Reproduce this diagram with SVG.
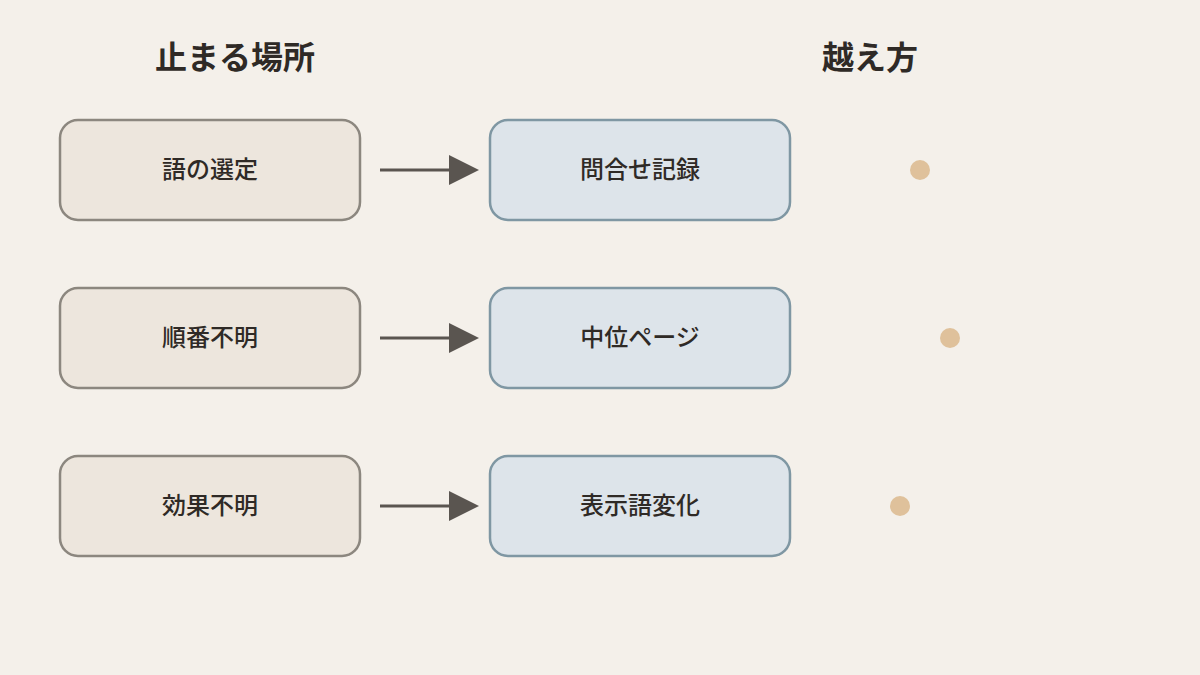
<svg xmlns="http://www.w3.org/2000/svg" width="1200" height="675" viewBox="0 0 1200 675">
<style>
text{font-family:"Noto Sans CJK JP","Noto Sans",sans-serif;fill:#2f2a26;text-anchor:middle}
.h{font-size:32px;font-weight:bold}
.t{font-size:24px;font-weight:500}
.a{fill:#ede6dd;stroke:#8c877f;stroke-width:2.5}
.b{fill:#dde4ea;stroke:#7f97a3;stroke-width:2.5}
.c{stroke:#5a5550;stroke-width:3}
.d{fill:#dfc19b}
</style>
<defs><marker id="m" markerWidth="10" markerHeight="10" refX="0" refY="5" orient="auto" markerUnits="userSpaceOnUse" viewBox="0 0 10 10"><path d="M0,0L10,5L0,10z" fill="#5a5550"/></marker></defs>
<rect width="1200" height="675" fill="#f4f0ea"/>
<text class="h" x="235" y="69">止まる場所</text>
<text class="h" x="870" y="69">越え方</text>
<g id="n1"><rect class="a" x="60" y="120" width="300" height="100" rx="18"/><text class="t" x="210" y="178">語の選定</text></g>
<g id="n2"><rect class="a" x="60" y="288" width="300" height="100" rx="18"/><text class="t" x="210" y="346">順番不明</text></g>
<g id="n3"><rect class="a" x="60" y="456" width="300" height="100" rx="18"/><text class="t" x="210" y="514">効果不明</text></g>
<g id="n4"><rect class="b" x="490" y="120" width="300" height="100" rx="18"/><text class="t" x="640" y="178">問合せ記録</text></g>
<g id="n5"><rect class="b" x="490" y="288" width="300" height="100" rx="18"/><text class="t" x="640" y="346">中位ページ</text></g>
<g id="n6"><rect class="b" x="490" y="456" width="300" height="100" rx="18"/><text class="t" x="640" y="514">表示語変化</text></g>
<g id="connectors">
<path class="c" d="M380,170H450" marker-end="url(#m)" style="--s:0"/>
<path class="c" d="M380,338H450"/>
<path class="c" d="M380,506H450"/>
<path d="M449,155L479,170L449,185z" fill="#5a5550"/>
<path d="M449,323L479,338L449,353z" fill="#5a5550"/>
<path d="M449,491L479,506L449,521z" fill="#5a5550"/>
</g>
<circle class="d" cx="920" cy="170" r="10"/>
<circle class="d" cx="950" cy="338" r="10"/>
<circle class="d" cx="900" cy="506" r="10"/>
</svg>
